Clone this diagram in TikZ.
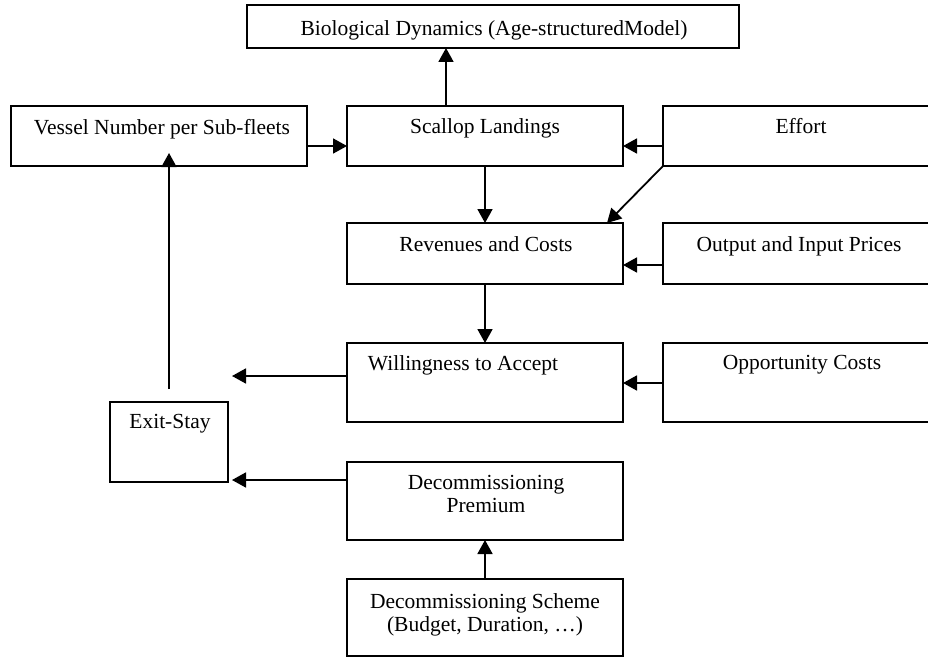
\documentclass[tikz,border=0pt]{standalone}
\usepackage{fontspec}
\setmainfont{Liberation Serif}
\usetikzlibrary{arrows.meta}
\begin{document}
\begin{tikzpicture}[x=1pt,y=-1pt,
  box/.style={draw, line width=2pt, rectangle, inner sep=0pt, outer sep=0pt, anchor=north west},
  txt/.style={anchor=base, inner sep=0pt, align=center, font=\fontsize{21.5}{23}\selectfont},
  arr/.style={line width=1.8pt, -{Triangle[length=14pt,width=15pt]}}]
\useasboundingbox (0,0) rectangle (928,658);
% boxes
\node[box, minimum width=492pt, minimum height=43pt] (bio) at (247,5) {};
\node[box, minimum width=296pt, minimum height=60pt] (vessel) at (11,106) {};
\node[box, minimum width=276pt, minimum height=60pt] (scallop) at (347,106) {};
\node[box, minimum width=274pt, minimum height=60pt] (effort) at (663,106) {};
\node[box, minimum width=276pt, minimum height=61pt] (rev) at (347,223) {};
\node[box, minimum width=274pt, minimum height=61pt] (output) at (663,223) {};
\node[box, minimum width=276pt, minimum height=79pt] (will) at (347,343) {};
\node[box, minimum width=274pt, minimum height=79pt] (opp) at (663,343) {};
\node[box, minimum width=118pt, minimum height=80pt] (exit) at (110,402) {};
\node[box, minimum width=276pt, minimum height=78pt] (premium) at (347,462) {};
\node[box, minimum width=276pt, minimum height=77pt] (scheme) at (347,579) {};
% texts
\node[txt] (biot) at (494,36) {Biological Dynamics (Age-structuredModel)};
\node[txt] (vesselt) at (162,134) {Vessel Number per Sub-fleets};
\node[txt] (scallopt) at (485,133) {Scallop Landings};
\node[txt] (effortt) at (801,133) {Effort};
\node[txt] (revt) at (486,251) {Revenues and Costs};
\node[txt] (outputt) at (799,251) {Output and Input Prices};
\node[txt] (willt) at (463,370) {Willingness to Accept};
\node[txt] (oppt) at (802,369) {Opportunity Costs};
\node[txt] (exitt) at (170,428) {Exit-Stay};
\node[txt] (premiumt) at (486,512) {Decommissioning\\Premium};
\node[txt] (schemet) at (485,631) {Decommissioning Scheme\\(Budget, Duration, \dots)};
% free ends
\coordinate (a1) at ([xshift=-39pt]scallop.north);
\coordinate (wstart) at ([yshift=6.5pt]will.west);
\coordinate (wend) at ([xshift=-115pt]wstart);
\coordinate (pstart) at ([yshift=21pt]premium.west);
\coordinate (pend) at ([xshift=-115pt]pstart);
\coordinate (etop) at ([yshift=13pt]exit.north);
% connectors
\draw[arr] (a1) -- (a1 |- bio.south);
\draw[arr] ([yshift=-10pt]vessel.east) -- ([yshift=-10pt]scallop.west);
\draw[arr] ([yshift=-10pt]effort.west) -- ([yshift=-10pt]scallop.east);
\draw[arr] (scallop.south) -- (rev.north);
\draw[arr] (effort.south west) -- ([xshift=-16pt]rev.north east);
\draw[arr] ([yshift=-11.5pt]output.west) -- ([yshift=-11.5pt]rev.east);
\draw[arr] (rev.south) -- (will.north);
\draw[arr] ([yshift=-0.5pt]opp.west) -- ([yshift=-0.5pt]will.east);
\draw[arr] (wstart) -- (wend);
\draw[arr, shorten >=-13pt] (etop) -- (etop |- vessel.south);
\draw[arr] (pstart) -- (pend);
\draw[arr] (scheme.north) -- (premium.south);
\end{tikzpicture}
\end{document}
